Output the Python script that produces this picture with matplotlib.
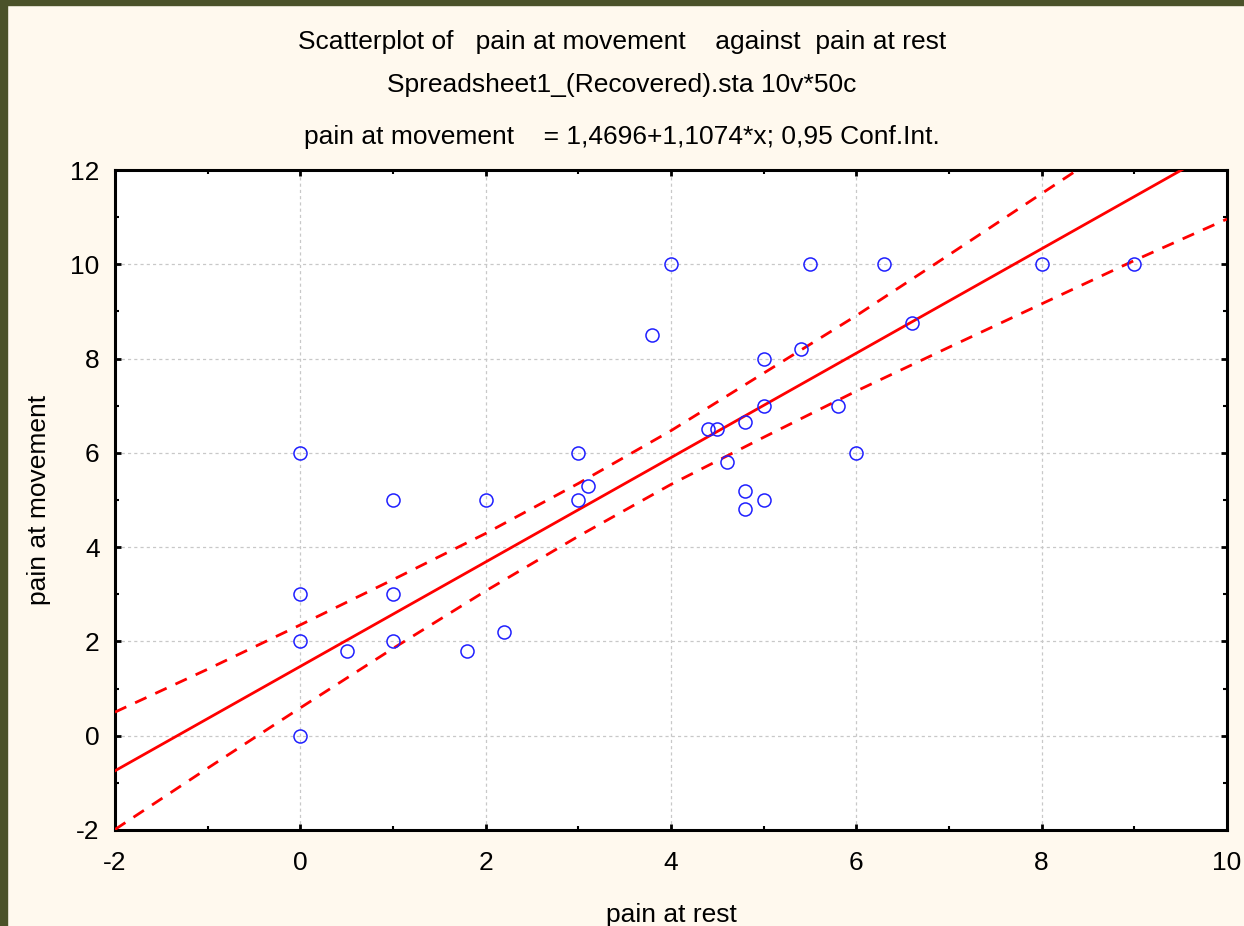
import matplotlib.pyplot as plt
from matplotlib.patches import Rectangle
from matplotlib.ticker import MultipleLocator

# data
pain_rest = [0, 0, 0, 0, 0.5, 1, 1, 1, 1.8, 2, 2.2, 3, 3, 3.1, 3.8, 4, 4.4, 4.5,
             4.6, 4.8, 4.8, 4.8, 5, 5, 5, 5.4, 5.5, 5.8, 6, 6.3, 6.6, 8, 9]
pain_move = [6, 3, 2, 0, 1.8, 5, 3, 2, 1.8, 5, 2.2, 6, 5, 5.3, 8.5, 10, 6.5, 6.5,
             5.8, 6.66, 5.2, 4.8, 8, 7, 5, 8.2, 10, 7, 6, 10, 8.75, 10, 10]

# fitted line from the title
intercept = 1.4696
slope = 1.1074

# 0.95 confidence band, read at each integer x
band_x = [-2, -1, 0, 1, 2, 3, 4, 5, 6, 7, 8, 9, 10]
band_upper = [0.50, 1.41, 2.35, 3.31, 4.29, 5.35, 6.47, 7.69, 8.91, 10.20, 11.50, 12.80, 14.12]
band_lower = [-1.99, -0.69, 0.59, 1.85, 3.07, 4.23, 5.33, 6.33, 7.31, 8.24, 9.16, 10.08, 10.96]

plt.rcParams['font.family'] = ['Liberation Sans', 'DejaVu Sans']
plt.rcParams['axes.unicode_minus'] = False

fig = plt.figure(figsize=(12.44, 9.26), dpi=100, facecolor='#FFF9EE')

# dark frame on the top and left edges
fig.patches.append(Rectangle((0, 0.9946), 1, 0.0054, transform=fig.transFigure, color='#4B5229', zorder=0))
fig.patches.append(Rectangle((0, 0), 0.0056, 1, transform=fig.transFigure, color='#4B5229', zorder=0))

ax = fig.add_axes([0.0924, 0.1037, 0.8939, 0.7127])
ax.set_facecolor('white')

line_x = [band_x[0], band_x[-1]]
line_y = [intercept + slope * v for v in line_x]
ax.plot(line_x, line_y, color='#FF0000', linewidth=2.0, zorder=3)
ax.plot(band_x, band_upper, color='#FF0000', linewidth=2.0, linestyle=(0, (4.5, 3.5)), zorder=3)
ax.plot(band_x, band_lower, color='#FF0000', linewidth=2.0, linestyle=(0, (4.5, 3.5)), zorder=3)

ax.plot(pain_rest, pain_move, linestyle='none', marker='o', markersize=9.4,
        markerfacecolor='none', markeredgecolor='#1F1FFF', markeredgewidth=1.1, zorder=4)

ax.set_xlim(-2, 10)
ax.set_ylim(-2, 12)
ax.xaxis.set_major_locator(MultipleLocator(2))
ax.xaxis.set_minor_locator(MultipleLocator(1))
ax.yaxis.set_major_locator(MultipleLocator(2))
ax.yaxis.set_minor_locator(MultipleLocator(1))

ax.grid(which='major', color='#C8C8C8', linestyle=(0, (2.5, 2.5)), linewidth=0.9)
ax.tick_params(which='both', direction='in', top=True, right=True, labelsize=19, colors='black')
ax.tick_params(which='major', length=4, width=2)
ax.tick_params(which='minor', length=3, width=1.5)
ax.tick_params(axis='x', which='major', pad=15)
ax.tick_params(axis='y', which='major', pad=11)
for s in ax.spines.values():
    s.set_linewidth(2.2)
    s.set_color('black')

ax.set_xlabel('pain at rest', fontsize=19, labelpad=20)
ax.set_ylabel('pain at movement', fontsize=19, labelpad=14)

fig.text(0.5, 0.9546, 'Scatterplot of   pain at movement    against  pain at rest',
         ha='center', va='center', fontsize=19)
fig.text(0.5, 0.908, 'Spreadsheet1_(Recovered).sta 10v*50c', ha='center', va='center', fontsize=19)
fig.text(0.5, 0.852, 'pain at movement    = 1,4696+1,1074*x; 0,95 Conf.Int.',
         ha='center', va='center', fontsize=19)

fig.savefig('out.png', dpi=100, facecolor=fig.get_facecolor())
